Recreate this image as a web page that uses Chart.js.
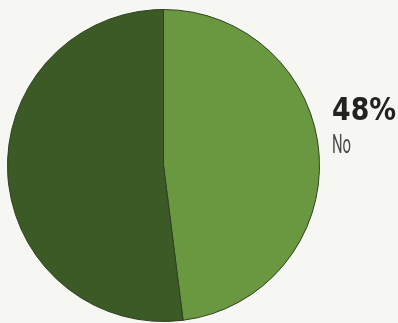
<!DOCTYPE html>
<html>
<head>
<meta charset="utf-8">
<script src="https://cdn.jsdelivr.net/npm/chart.js@4"></script>
<style>
  html, body { margin: 0; padding: 0; background: #f6f6f3; }
  #wrap { position: relative; width: 398px; height: 323px; overflow: hidden; }
  #pie { position: absolute; left: 0; top: 0; }
  .pct, .lbl { position: absolute; left: 332px; white-space: nowrap; transform-origin: 0 0; line-height: 1; }
  .pct { top: 91px; font: bold 31.5px "DejaVu Sans", sans-serif; color: #222; transform: scaleX(0.85); }
  .lbl { top: 128.6px; font: 400 26px Roboto, sans-serif; color: #4a4a4a; transform: scaleX(0.57); }
</style>
</head>
<body>
<div id="wrap">
  <canvas id="pie" width="398" height="323"></canvas>
  <div class="pct" id="pctText"></div>
  <div class="lbl" id="lblText"></div>
</div>
<script>
const labels = ["No", "Yes"];
const shares = [48, 52];
const sliceColors = ["#6a9840", "#3b5a26"];

document.getElementById("pctText").textContent = shares[0] + "%";
document.getElementById("lblText").textContent = labels[0];

new Chart(document.getElementById("pie"), {
  type: "pie",
  data: {
    labels,
    datasets: [
      {
        data: shares,
        backgroundColor: sliceColors,
        borderColor: "#2f401f",
        borderWidth: 1
      }
    ]
  },
  options: {
    responsive: false,
    animation: false,
    layout: { padding: { left: 7, top: 9, right: 78, bottom: 1 } },
    plugins: { legend: { display: false }, tooltip: { enabled: false } }
  }
});
</script>
</body>
</html>
